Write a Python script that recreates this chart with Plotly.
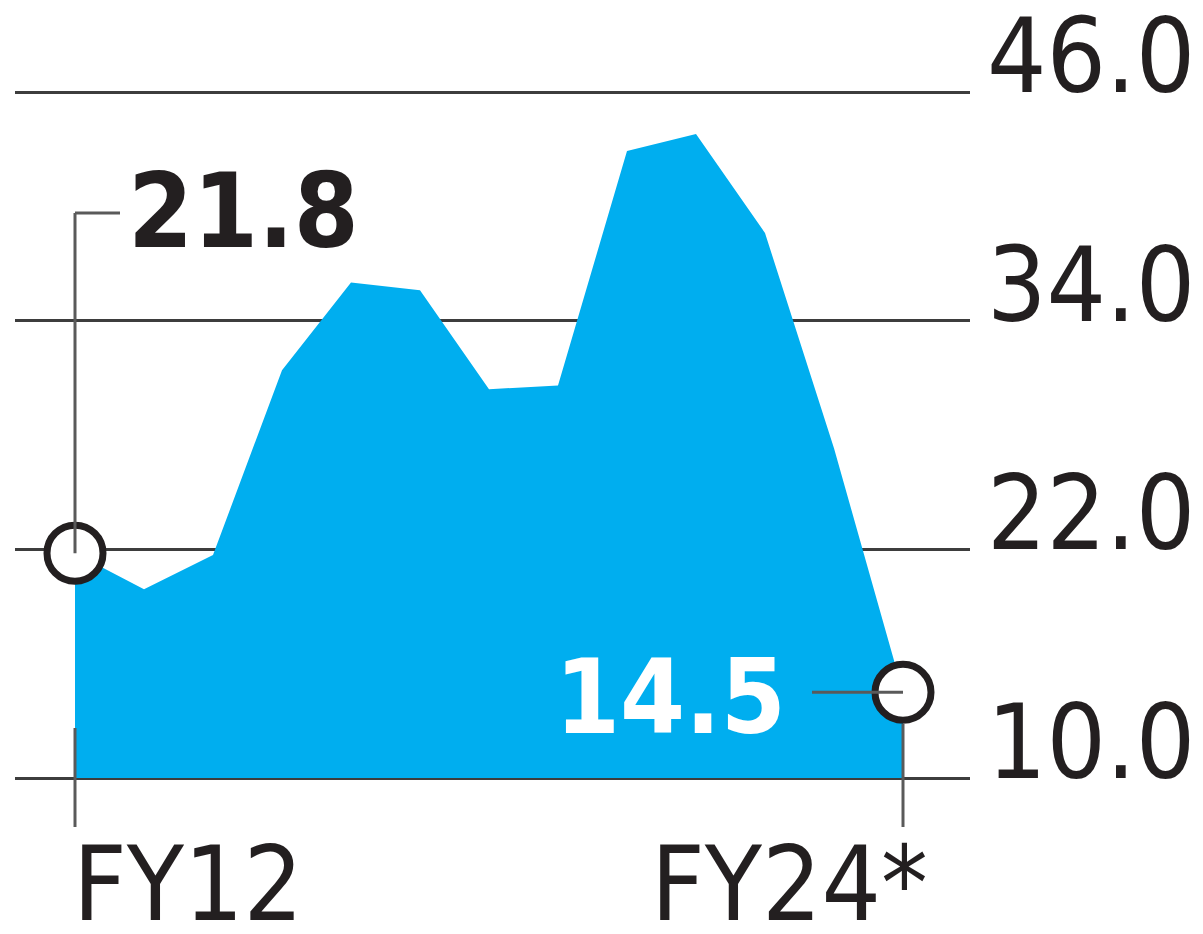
import plotly.graph_objects as go

# fiscal years and values
years = ["FY12", "FY13", "FY14", "FY15", "FY16", "FY17", "FY18",
         "FY19", "FY20", "FY21", "FY22", "FY23", "FY24*"]
values = [21.8, 19.9, 21.7, 31.4, 36.0, 35.6, 30.4,
          30.6, 42.9, 43.8, 38.6, 27.3, 14.5]
y_ticks = [10.0, 22.0, 34.0, 46.0]

FONT = "DejaVu Sans Condensed, Liberation Sans Narrow, Arial Narrow, sans-serif"
BLUE = "#00AEEF"
INK = "#231F20"
GRID = "#3D3D3D"
LEAD = "#5A5A5A"

# the page body adds an 8px margin, so work in window pixels minus 8
OFF = 8
W, H = 1203 - OFF, 934 - OFF
X0_PX, X_STEP = 75, 69
Y10_PX, Y_STEP = 778, 686 / 36


def px_to_y(p):
    return 10 + (Y10_PX - p) / Y_STEP


def px_to_x(p):
    return (p - X0_PX) / X_STEP


xs = list(range(len(years)))
base = y_ticks[0]

fig = go.Figure()
fig.add_trace(go.Scatter(x=xs, y=[base] * len(xs), mode="lines",
                         line=dict(width=0), hoverinfo="skip", showlegend=False))
fig.add_trace(go.Scatter(x=xs, y=values, mode="lines", fill="tonexty",
                         fillcolor=BLUE, line=dict(width=0, color=BLUE),
                         showlegend=False))
# end point circles
fig.add_trace(go.Scatter(x=[xs[0], xs[-1]], y=[values[0], values[-1]],
                         mode="markers", showlegend=False,
                         marker=dict(size=56, color="white",
                                     line=dict(color=INK, width=7))))

shapes = [
    # leader to first value label
    dict(type="line", x0=0, x1=0, y0=values[0], y1=px_to_y(213)),
    dict(type="line", x0=0, x1=px_to_x(120), y0=px_to_y(213), y1=px_to_y(213)),
    # tick under FY12
    dict(type="line", x0=0, x1=0, y0=px_to_y(728), y1=px_to_y(827)),
    # leader to last value label and tick under FY24
    dict(type="line", x0=px_to_x(812), x1=12, y0=values[-1], y1=values[-1]),
    dict(type="line", x0=12, x1=12, y0=px_to_y(724), y1=px_to_y(827)),
]
for s in shapes:
    s.update(xref="x", yref="y", line=dict(color=LEAD, width=3), layer="above")

annotations = []
for t in y_ticks:
    annotations.append(dict(
        x=(1197 - OFF) / W, xref="paper", y=t, yref="y", text=f"{t:.1f}",
        xanchor="right", yanchor="bottom", yshift=-27, showarrow=False,
        font=dict(family=FONT, size=104, color=INK)))

annotations += [
    dict(x=px_to_x(126), y=px_to_y(213), text=f"<b>{values[0]}</b>",
         xanchor="left", yanchor="middle", yshift=2, showarrow=False,
         font=dict(family=FONT, size=104, color=INK)),
    dict(x=px_to_x(788), y=values[-1], text=f"<b>{values[-1]}</b>",
         xanchor="right", yanchor="middle", yshift=-5, showarrow=False,
         font=dict(family=FONT, size=104, color="white")),
    dict(x=0, y=px_to_y(884), text=years[0], xanchor="left",
         yanchor="middle", xshift=-4, showarrow=False,
         font=dict(family=FONT, size=104, color=INK)),
    dict(x=px_to_x(930), y=px_to_y(884), text=years[-1], xanchor="right",
         yanchor="middle", showarrow=False,
         font=dict(family=FONT, size=104, color=INK)),
]

x_lo, x_hi = px_to_x(15), px_to_x(970)
fig.update_layout(
    width=W, height=H,
    margin=dict(l=0, r=0, t=0, b=0),
    paper_bgcolor="white", plot_bgcolor="white",
    shapes=shapes, annotations=annotations,
    xaxis=dict(domain=[(15 - OFF) / W, (970 - OFF) / W], range=[x_lo, x_hi],
               showgrid=False, zeroline=False, showticklabels=False,
               ticks=""),
    yaxis=dict(range=[px_to_y(934), px_to_y(OFF)], tickvals=y_ticks,
               showgrid=True, gridcolor=GRID, gridwidth=3,
               zeroline=False, showticklabels=False, ticks=""),
)

fig.write_html("out.html")
